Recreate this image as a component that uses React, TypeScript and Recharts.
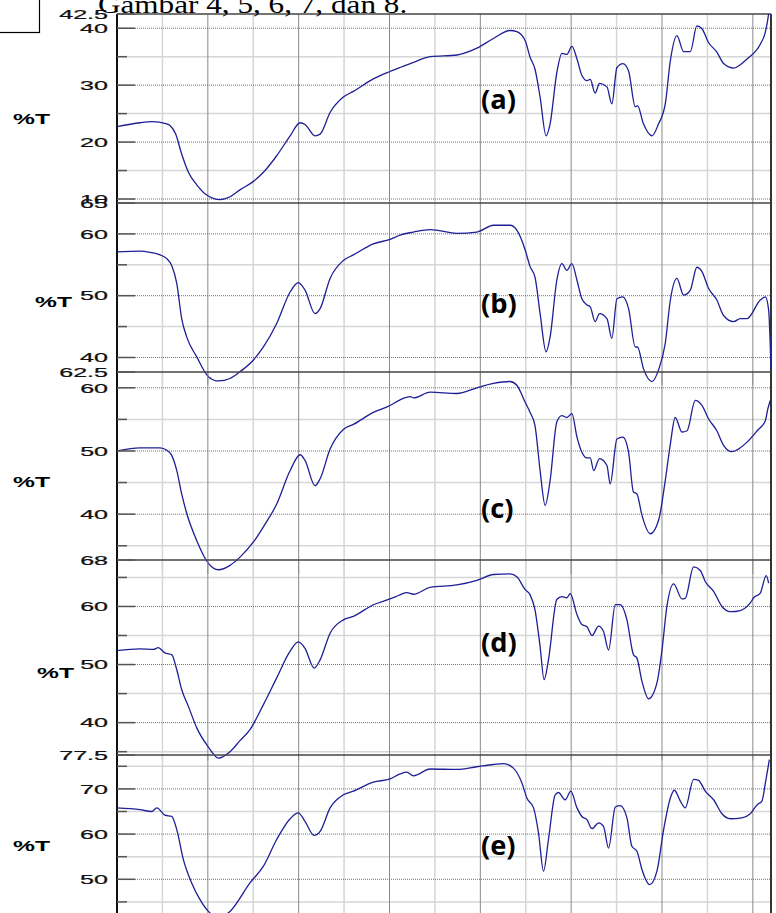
import React from "react";
import {
  LineChart,
  Line,
  XAxis,
  YAxis,
  CartesianGrid,
  ReferenceLine,
} from "recharts";

// wavenumber (cm-1) and %T
const waveA = [4000, 3873, 3809, 3726, 3708, 3677, 3644, 3607, 3561, 3506, 3433, 3378, 3323, 3249, 3194, 3121, 3047, 2992, 2965, 2910, 2882, 2827, 2754, 2699, 2589, 2497, 2442, 2368, 2276, 2129, 2019, 1928, 1836, 1799, 1753, 1726, 1699, 1671, 1638, 1616, 1579, 1551, 1524, 1496, 1468, 1441, 1413, 1395, 1368, 1344, 1303, 1276, 1248, 1215, 1184, 1147, 1135, 1102, 1055, 1019, 982, 954, 918, 881, 844, 808, 780, 744, 698, 661, 606, 569, 532, 459, 431, 413, 400];
const tA = [22.7, 23.4, 23.6, 23.2, 22.9, 21.4, 17.9, 14.7, 12.5, 10.7, 9.9, 10.4, 11.6, 13.1, 14.7, 17.6, 21.1, 23.4, 23.1, 21.1, 21.4, 25.2, 27.9, 28.9, 31.1, 32.4, 33.1, 34.0, 35.0, 35.3, 36.5, 38.2, 39.6, 39.4, 37.8, 34.9, 32.8, 27.9, 21.1, 23.2, 32.2, 35.6, 35.4, 36.8, 34.6, 31.7, 30.8, 31.0, 28.6, 30.3, 29.7, 26.7, 33.1, 33.8, 32.5, 26.2, 26.4, 23.2, 21.1, 23.2, 26.7, 34.3, 38.7, 35.9, 35.9, 40.4, 39.9, 37.5, 35.8, 33.8, 33.0, 33.6, 34.6, 37.2, 39.3, 42.5, 46.0];

const waveB = [4000, 3873, 3818, 3763, 3726, 3699, 3671, 3644, 3616, 3561, 3497, 3442, 3378, 3323, 3249, 3194, 3121, 3047, 3002, 2965, 2910, 2882, 2827, 2754, 2699, 2589, 2497, 2442, 2368, 2276, 2129, 2019, 1928, 1836, 1799, 1753, 1726, 1699, 1671, 1638, 1616, 1579, 1551, 1524, 1496, 1468, 1441, 1413, 1395, 1368, 1344, 1303, 1276, 1248, 1215, 1184, 1147, 1135, 1102, 1055, 1019, 982, 954, 918, 881, 844, 808, 780, 744, 698, 661, 606, 569, 532, 459, 431, 413, 400];
const tB = [57.1, 57.2, 57.0, 56.6, 56.0, 54.9, 52.0, 46.3, 43.3, 40.1, 36.9, 36.2, 36.6, 37.7, 39.6, 41.7, 45.5, 50.6, 52.1, 50.9, 47.1, 47.9, 52.8, 55.7, 56.6, 58.4, 59.1, 59.8, 60.3, 60.7, 60.1, 60.3, 61.4, 61.4, 60.6, 57.4, 54.7, 53.0, 47.1, 40.9, 43.3, 52.5, 55.2, 54.1, 55.2, 52.5, 49.5, 48.5, 48.2, 45.8, 47.1, 46.3, 43.1, 49.5, 49.8, 47.9, 41.7, 41.7, 38.2, 36.1, 38.0, 42.3, 49.3, 52.8, 50.1, 50.9, 54.6, 53.9, 51.2, 49.3, 46.8, 45.8, 46.3, 46.3, 49.3, 49.8, 47.7, 38.0];

const waveC = [4000, 3873, 3818, 3763, 3726, 3699, 3671, 3644, 3616, 3561, 3497, 3442, 3378, 3323, 3249, 3194, 3121, 3047, 2992, 2965, 2910, 2882, 2827, 2754, 2699, 2589, 2497, 2442, 2386, 2368, 2276, 2129, 2019, 1928, 1836, 1799, 1753, 1726, 1699, 1671, 1643, 1616, 1579, 1551, 1524, 1496, 1468, 1441, 1413, 1395, 1376, 1344, 1303, 1285, 1248, 1215, 1184, 1157, 1138, 1110, 1065, 1019, 982, 954, 927, 890, 862, 817, 780, 744, 698, 661, 615, 569, 532, 476, 431, 417, 404];
const tC = [50.0, 50.5, 50.5, 50.5, 50.1, 49.3, 46.9, 43.2, 40.1, 35.8, 32.2, 31.2, 31.9, 33.2, 35.6, 38.0, 41.6, 46.9, 49.4, 48.5, 44.5, 45.6, 50.3, 53.4, 54.2, 56.1, 57.2, 58.1, 58.6, 58.4, 59.3, 59.1, 60.0, 60.7, 61.0, 60.4, 57.7, 56.1, 54.0, 46.9, 41.4, 45.3, 54.6, 55.6, 55.3, 55.9, 52.2, 49.8, 48.9, 48.9, 46.9, 48.8, 47.7, 44.8, 51.9, 52.2, 49.8, 43.5, 43.2, 39.8, 36.9, 39.0, 45.3, 51.1, 55.3, 53.0, 53.2, 58.0, 57.2, 55.1, 53.2, 50.9, 49.9, 50.5, 51.4, 53.2, 54.8, 56.7, 58.0];

const waveD = [4000, 3873, 3800, 3773, 3736, 3699, 3671, 3644, 3607, 3561, 3497, 3442, 3378, 3323, 3268, 3194, 3121, 3047, 3002, 2965, 2915, 2882, 2827, 2754, 2699, 2589, 2497, 2442, 2405, 2368, 2276, 2129, 2019, 1928, 1836, 1799, 1753, 1726, 1699, 1671, 1649, 1625, 1579, 1551, 1524, 1505, 1468, 1441, 1413, 1385, 1349, 1322, 1294, 1257, 1230, 1193, 1157, 1138, 1110, 1074, 1028, 1000, 973, 936, 890, 872, 826, 789, 762, 716, 670, 624, 569, 514, 495, 459, 426, 413];
const tD = [52.4, 52.7, 52.6, 52.9, 52.0, 51.7, 49.1, 45.7, 42.8, 39.1, 35.8, 33.9, 35.0, 36.9, 38.8, 43.1, 47.7, 52.3, 53.9, 52.8, 49.4, 50.8, 55.4, 57.7, 58.3, 60.3, 61.3, 62.0, 62.4, 62.1, 63.3, 63.7, 64.5, 65.5, 65.6, 65.1, 62.9, 62.0, 59.4, 53.1, 47.4, 50.8, 61.2, 61.7, 61.5, 62.2, 58.6, 56.9, 56.5, 55.0, 56.6, 55.7, 52.5, 60.3, 60.3, 57.7, 51.7, 51.1, 47.1, 44.1, 46.8, 52.5, 60.0, 63.9, 61.3, 61.4, 66.8, 66.2, 64.3, 62.6, 60.0, 59.1, 59.3, 60.6, 61.5, 62.3, 65.3, 64.0];

const waveE = [4000, 3873, 3809, 3781, 3736, 3699, 3671, 3635, 3589, 3543, 3497, 3442, 3378, 3268, 3194, 3121, 3047, 3002, 2965, 2915, 2882, 2827, 2754, 2699, 2589, 2497, 2442, 2405, 2368, 2276, 2129, 2019, 1928, 1873, 1818, 1771, 1744, 1707, 1680, 1652, 1625, 1588, 1570, 1533, 1502, 1468, 1441, 1413, 1385, 1349, 1322, 1294, 1257, 1230, 1193, 1166, 1138, 1110, 1068, 1028, 991, 954, 932, 899, 872, 826, 799, 762, 716, 670, 624, 560, 514, 476, 450, 431, 409];
const tE = [65.8, 65.4, 65.0, 65.8, 64.2, 63.9, 61.0, 54.4, 49.2, 45.5, 42.9, 41.5, 42.9, 49.2, 52.9, 58.8, 63.4, 64.7, 62.8, 59.7, 60.6, 65.8, 68.7, 69.5, 71.5, 72.2, 73.3, 73.7, 72.9, 74.4, 74.3, 74.9, 75.4, 75.6, 74.6, 71.3, 68.0, 65.8, 60.3, 51.8, 58.8, 68.7, 69.2, 67.6, 69.5, 65.8, 63.9, 63.2, 61.2, 62.5, 61.7, 56.9, 66.0, 66.3, 63.6, 57.3, 56.2, 52.1, 48.8, 51.8, 61.0, 68.0, 69.7, 67.3, 65.8, 72.1, 71.9, 69.5, 67.6, 64.5, 63.4, 63.6, 64.5, 66.5, 67.3, 71.3, 76.5];

// y ticks per panel (all) and the ones that carry a number
const ticksA = [42.5, 40, 35, 30, 25, 20, 15, 10];
const labelsA = [42.5, 40, 30, 20, 10];
const ticksB = [65, 60, 55, 50, 45, 40];
const labelsB = [65, 60, 50, 40];
const ticksC = [62.5, 60, 55, 50, 45, 40, 35];
const labelsC = [62.5, 60, 50, 40];
const ticksD = [68, 65, 60, 55, 50, 45, 40, 35];
const labelsD = [68, 60, 50, 40];
const ticksE = [77.5, 75, 70, 65, 60, 55, 50, 45];
const labelsE = [77.5, 70, 60, 50];

const majorX = [3500, 3000, 2500, 2000, 1500, 1000, 500];
const minorX = [3750, 3250, 2750, 2250, 1750, 1250, 750];

const W = 776;
const LEFT = 117;
const PAD = 10;

const YTick = (props: any) => {
  const { x, y, payload, labels } = props;
  const v = payload.value;
  const major = labels.includes(v);
  return (
    <g>
      <line x1={LEFT} x2={LEFT + (major ? 18 : 10)} y1={y} y2={y} stroke="#555" strokeWidth={1.5} />
      {major && (
        <text
          transform={`translate(${x}, ${y + 4.8}) scale(1.9, 1)`}
          textAnchor="end"
          fontFamily="'Liberation Sans', Arial, sans-serif"
          fontSize={13.2}
          fill="#111"
          stroke="#111"
          strokeWidth={0.25}
        >
          {String(v)}
        </text>
      )}
    </g>
  );
};

type PanelProps = {
  wave: number[];
  values: number[];
  domain: [number, number];
  ticks: number[];
  labels: number[];
  top: number;
  height: number;
};

const Panel = ({ wave, values, domain, ticks, labels, top, height }: PanelProps) => {
  const data = wave.map((w, i) => ({ w, t: values[i] }));
  const majorY = labels.filter((v) => v !== domain[1]);
  const minorY = ticks.filter((v) => !labels.includes(v));
  return (
    <div style={{ position: "absolute", left: 0, top: top - PAD }}>
      <LineChart
        width={W}
        height={height + PAD}
        data={data}
        margin={{ top: PAD, right: 5, bottom: 0, left: 0 }}
      >
        <CartesianGrid
          stroke="#d6d6d6"
          strokeWidth={1.5}
          horizontalValues={minorY}
          verticalValues={minorX}
        />
        <CartesianGrid stroke="#8a8a8a" horizontal={false} verticalValues={majorX} />
        <CartesianGrid
          stroke="#6e6e6e"
          strokeDasharray="1 1"
          vertical={false}
          horizontalValues={majorY}
        />
        <XAxis type="number" dataKey="w" domain={[400, 4000]} reversed hide allowDataOverflow />
        <YAxis
          type="number"
          domain={domain}
          ticks={ticks}
          interval={0}
          allowDataOverflow
          width={LEFT}
          tickSize={0}
          tickMargin={9}
          tickLine={false}
          axisLine={{ stroke: "#111", strokeWidth: 2 }}
          tick={(p: any) => <YTick {...p} labels={labels} />}
        />
        <ReferenceLine y={domain[1]} stroke="#444" strokeWidth={1.5} />
        <ReferenceLine x={400} stroke="#333" strokeWidth={2} />
        <Line
          type="monotone"
          dataKey="t"
          stroke="#1f1f96"
          strokeWidth={1.3}
          dot={false}
          isAnimationActive={false}
        />
      </LineChart>
    </div>
  );
};

const panelNames = ["(a)", "(b)", "(c)", "(d)", "(e)"];
const tLabelY = [124, 307, 487, 678, 851];
const tLabelX = [13, 35, 13, 37, 13];
const nameY = [109, 313, 518, 652, 855];

export default function App() {
  return (
    <div
      style={{
        position: "absolute",
        left: 0,
        top: 0,
        width: W,
        height: 913,
        overflow: "hidden",
        background: "#fff",
      }}
    >
      <Panel wave={waveA} values={tA} domain={[9.3, 42.5]} ticks={ticksA} labels={labelsA} top={13.5} height={189} />
      <Panel wave={waveB} values={tB} domain={[35.5, 65]} ticks={ticksB} labels={labelsB} top={202.5} height={182.3} />
      <Panel wave={waveC} values={tC} domain={[30.5, 62.5]} ticks={ticksC} labels={labelsC} top={372} height={202.2} />
      <Panel wave={waveD} values={tD} domain={[33.5, 68]} ticks={ticksD} labels={labelsD} top={560.3} height={200.4} />
      <Panel wave={waveE} values={tE} domain={[40, 77.5]} ticks={ticksE} labels={labelsE} top={755.3} height={169.5} />
      <svg
        width={W}
        height={913}
        style={{ position: "absolute", left: 0, top: 0, pointerEvents: "none" }}
      >
        <rect x={-2} y={-2} width={41.5} height={34.5} fill="none" stroke="#000" strokeWidth={1.2} />
        <text
          transform="translate(98, 13) scale(1.2, 1)"
          fontFamily="'Liberation Serif', 'Times New Roman', serif"
          fontSize={26}
          fill="#000"
        >
          Gambar 4, 5, 6, 7, dan 8.
        </text>
        {tLabelY.map((y, i) => (
          <text
            key={"t" + i}
            transform={`translate(${tLabelX[i]}, ${y}) scale(1.7, 1)`}
            fontFamily="'Liberation Sans', Arial, sans-serif"
            fontWeight="bold"
            fontSize={14.5}
            fill="#000"
          >
            %T
          </text>
        ))}
        {panelNames.map((n, i) => (
          <text
            key={n}
            transform={`translate(481, ${nameY[i]}) scale(1.05, 1)`}
            fontFamily="'Open Sans', sans-serif"
            fontWeight="bold"
            fontSize={26}
            fill="#000"
          >
            {n}
          </text>
        ))}
      </svg>
    </div>
  );
}
